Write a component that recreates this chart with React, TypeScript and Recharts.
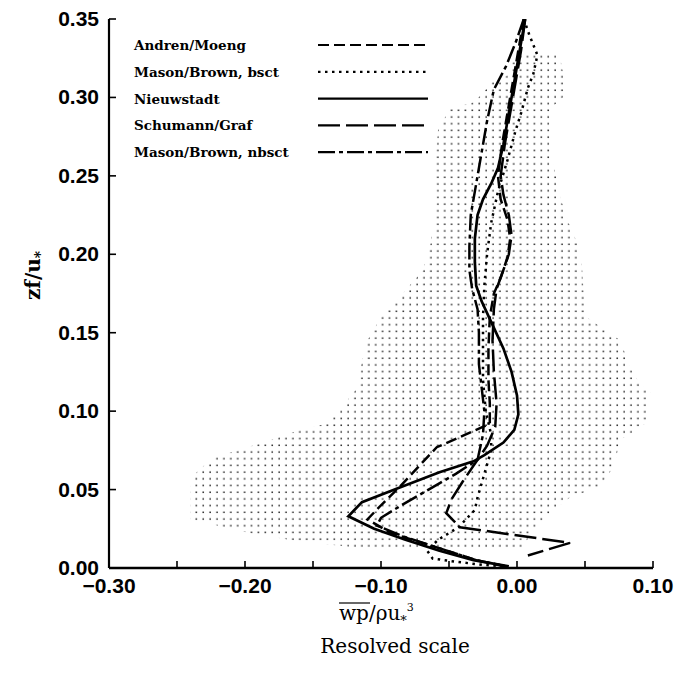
import React from "react";
import { ComposedChart, Line, Area, XAxis, YAxis, Legend } from "recharts";

// Resolved-scale pressure transport wp/(rho u*^3) against height zf/u*.
// Each profile is a list of [zf/u*, value] pairs, bottom of the list = surface.
const andrenMoeng: [number, number][] = [
  [0.35, 0.005], [0.33, 0.001], [0.31, -0.003], [0.29, -0.007], [0.27, -0.011],
  [0.25, -0.014], [0.235, -0.012], [0.222, -0.007], [0.21, -0.005], [0.198, -0.007],
  [0.185, -0.012], [0.175, -0.017], [0.16, -0.02], [0.14, -0.021], [0.12, -0.021],
  [0.105, -0.02], [0.092, -0.02], [0.085, -0.038], [0.077, -0.059], [0.065, -0.072],
  [0.052, -0.086], [0.04, -0.1], [0.031, -0.11], [0.022, -0.092], [0.012, -0.055],
  [0.005, -0.03], [0.001, -0.008],
];

const masonBrownBsct: [number, number][] = [
  [0.35, 0.005], [0.34, 0.009], [0.327, 0.015], [0.315, 0.012], [0.306, 0.008],
  [0.29, 0.003], [0.279, -0.001], [0.26, -0.007], [0.24, -0.014], [0.22, -0.019],
  [0.2, -0.022], [0.18, -0.024], [0.16, -0.025], [0.14, -0.025], [0.12, -0.025],
  [0.1, -0.023], [0.085, -0.019], [0.075, -0.019], [0.06, -0.024], [0.045, -0.029],
  [0.037, -0.031], [0.026, -0.043], [0.018, -0.058], [0.011, -0.066], [0.006, -0.062],
  [0.004, -0.045], [0.002, -0.025], [0.001, -0.008],
];

const nieuwstadt: [number, number][] = [
  [0.35, 0.006], [0.33, 0.002], [0.31, -0.002], [0.29, -0.006], [0.27, -0.01],
  [0.255, -0.014], [0.245, -0.019], [0.235, -0.025], [0.225, -0.029], [0.21, -0.031],
  [0.195, -0.031], [0.18, -0.03], [0.17, -0.026], [0.155, -0.018], [0.14, -0.01],
  [0.125, -0.004], [0.11, 0.0], [0.098, 0.001], [0.088, -0.002], [0.08, -0.01],
  [0.072, -0.024], [0.068, -0.032], [0.061, -0.057], [0.05, -0.09], [0.042, -0.114],
  [0.033, -0.124], [0.025, -0.105], [0.018, -0.082], [0.011, -0.057], [0.005, -0.032],
  [0.001, -0.006],
];

const schumannGraf: [number, number][] = [
  [0.35, 0.006], [0.33, 0.003], [0.31, -0.001], [0.29, -0.005], [0.27, -0.009],
  [0.25, -0.012], [0.238, -0.01], [0.225, -0.006], [0.212, -0.004], [0.2, -0.006],
  [0.19, -0.01], [0.178, -0.015], [0.165, -0.017], [0.145, -0.018], [0.125, -0.017],
  [0.105, -0.015], [0.09, -0.016], [0.078, -0.022], [0.069, -0.029], [0.055, -0.04],
  [0.044, -0.048], [0.035, -0.052], [0.026, -0.042], [0.016, 0.039], [0.008, 0.008],
];

const masonBrownNbsct: [number, number][] = [
  [0.35, 0.005], [0.335, -0.001], [0.32, -0.008], [0.305, -0.017], [0.285, -0.022],
  [0.265, -0.026], [0.245, -0.03], [0.225, -0.034], [0.205, -0.035], [0.19, -0.035],
  [0.178, -0.033], [0.165, -0.029], [0.15, -0.028], [0.13, -0.028], [0.115, -0.026],
  [0.1, -0.024], [0.085, -0.025], [0.069, -0.029], [0.06, -0.045], [0.05, -0.065],
  [0.04, -0.085], [0.032, -0.1], [0.027, -0.103], [0.02, -0.083], [0.012, -0.055],
  [0.005, -0.03], [0.001, -0.008],
];

// spread of the observations (stippled band)
const envZ = [
  0.328, 0.324, 0.315, 0.31, 0.301, 0.297, 0.293, 0.28, 0.26, 0.233, 0.215, 0.205,
  0.19, 0.175, 0.166, 0.16, 0.145, 0.128, 0.118, 0.112, 0.101, 0.092, 0.088, 0.082,
  0.075, 0.071, 0.064, 0.062, 0.052, 0.045, 0.035, 0.031, 0.026, 0.022, 0.017, 0.013,
];
const envLow = [
  0.002, -0.003, -0.005, -0.018, -0.027, -0.032, -0.049, -0.058, -0.06, -0.059, -0.062, -0.064,
  -0.069, -0.084, -0.093, -0.1, -0.11, -0.115, -0.115, -0.12, -0.13, -0.14, -0.16, -0.18,
  -0.205, -0.221, -0.232, -0.235, -0.24, -0.24, -0.24, -0.24, -0.215, -0.195, -0.161, -0.118,
];
const envHigh = [
  0.029, 0.032, 0.034, 0.034, 0.035, 0.03, 0.024, 0.024, 0.026, 0.033, 0.04, 0.046,
  0.048, 0.049, 0.05, 0.051, 0.076, 0.083, 0.09, 0.098, 0.097, 0.094, 0.088, 0.076,
  0.074, 0.073, 0.071, 0.069, 0.061, 0.039, 0.024, 0.02, 0.015, 0.01, 0.007, 0.004,
];

const xTicks = [-0.3, -0.25, -0.2, -0.15, -0.1, -0.05, 0, 0.05, 0.1];
const yTicks = [0, 0.05, 0.1, 0.15, 0.2, 0.25, 0.3, 0.35];

const series = [
  { name: "Andren/Moeng", data: andrenMoeng, dash: "11 5", width: 2.5 },
  { name: "Mason/Brown, bsct", data: masonBrownBsct, dash: "2.5 4.5", width: 2.5 },
  { name: "Nieuwstadt", data: nieuwstadt, dash: undefined, width: 2.7 },
  { name: "Schumann/Graf", data: schumannGraf, dash: "22 6", width: 2.5 },
  { name: "Mason/Brown, nbsct", data: masonBrownNbsct, dash: "17 4 4 4", width: 2.5 },
];

const envelope = envZ.map((z, i) => ({ z, range: [envLow[i], envHigh[i]] }));

const TICK_FONT = "'Liberation Sans', Arial, sans-serif";
const SERIF = "'DejaVu Serif', serif";

const fmt = (v: number) => {
  const s = Math.abs(v).toFixed(2);
  return v < -1e-9 ? "\u2212" + s : s;
};

const isMajor = (v: number) => Math.abs(v * 10 - Math.round(v * 10)) < 1e-6;

function BottomTick({ x, y, payload }: any) {
  return (
    <g>
      <line x1={x} x2={x} y1={y} y2={y - 7} stroke="#000" strokeWidth={1.6} />
      {isMajor(payload.value) && (
        <text x={x} y={y + 25} textAnchor="middle" fontFamily={TICK_FONT} fontWeight={700} fontSize={21} fill="#000">
          {fmt(payload.value)}
        </text>
      )}
    </g>
  );
}

function TopTick({ x, y }: any) {
  return <line x1={x} x2={x} y1={y} y2={y + 7} stroke="#000" strokeWidth={1.6} />;
}

function LeftTick({ x, y, payload }: any) {
  return (
    <g>
      <line x1={x} x2={x + 7} y1={y} y2={y} stroke="#000" strokeWidth={1.6} />
      <text x={x - 10} y={y + 7} textAnchor="end" fontFamily={TICK_FONT} fontWeight={700} fontSize={21} fill="#000">
        {fmt(payload.value)}
      </text>
    </g>
  );
}

function RightTick({ x, y }: any) {
  return <line x1={x} x2={x - 7} y1={y} y2={y} stroke="#000" strokeWidth={1.6} />;
}

function XTitle({ viewBox }: any) {
  const cx = viewBox.x + viewBox.width / 2 + 9;
  const x0 = cx - 51;
  const base = viewBox.y + 52;
  return (
    <g fontFamily={SERIF} fill="#000">
      {/* bar over the correlation wp */}
      <line x1={x0} x2={x0 + 31} y1={base - 17} y2={base - 17} stroke="#000" strokeWidth={1.2} />
      <text x={x0} y={base} fontSize={20}>
        <tspan>wp/ρu</tspan>
        <tspan fontSize={13} dy={5}>*</tspan>
        <tspan fontSize={11} dy={-14}>3</tspan>
      </text>
      <text x={cx + 5} y={viewBox.y + 85} textAnchor="middle" fontSize={20}>
        Resolved scale
      </text>
    </g>
  );
}

function YTitle({ viewBox }: any) {
  const x = viewBox.x + 33;
  const y = viewBox.y + viewBox.height / 2 - 18;
  return (
    <text transform={`translate(${x},${y}) rotate(-90)`} textAnchor="middle" fontFamily={SERIF} fontWeight={700} fontSize={20} fill="#000" dy={7}>
      zf/u<tspan fontSize={14} dy={5}>*</tspan>
    </text>
  );
}

function LegendBox() {
  return (
    <svg width={320} height={145} style={{ display: "block" }}>
      {series.map((s, i) => {
        const cy = 15 + i * 26.8;
        return (
          <g key={s.name}>
            <text x={6} y={cy + 5} fontFamily={SERIF} fontWeight={700} fontSize={13.5} fill="#000">
              {s.name}
            </text>
            <line x1={190} x2={300} y1={cy} y2={cy} stroke="#000" strokeWidth={2.2} strokeDasharray={s.dash} />
          </g>
        );
      })}
    </svg>
  );
}

export default function App() {
  return (
    <div style={{ position: "absolute", left: 0, top: 0, background: "#fff" }}>
      <ComposedChart
        width={683}
        height={674}
        layout="vertical"
        margin={{ top: 19, right: 30, bottom: 0, left: 0 }}
      >
        <defs>
          <pattern id="stipple" patternUnits="userSpaceOnUse" width={6.9} height={6.7}>
            <rect x={2.4} y={2.4} width={1.5} height={1.5} fill="#222" />
          </pattern>
        </defs>
        <XAxis
          xAxisId="bottom"
          type="number"
          orientation="bottom"
          domain={[-0.3, 0.1]}
          ticks={xTicks}
          allowDataOverflow
          height={106}
          tickSize={0}
          tickMargin={0}
          tickLine={false}
          tick={<BottomTick />}
          axisLine={{ stroke: "#000", strokeWidth: 2.4 }}
          interval={0}
          label={(p: any) => <XTitle {...p} />}
        />
        <XAxis
          xAxisId="top"
          type="number"
          orientation="top"
          domain={[-0.3, 0.1]}
          ticks={xTicks}
          allowDataOverflow
          height={0}
          tickSize={0}
          tickMargin={0}
          tickLine={false}
          tick={<TopTick />}
          axisLine={{ stroke: "#000", strokeWidth: 2 }}
          interval={0}
        />
        <YAxis
          yAxisId="left"
          type="number"
          dataKey="z"
          orientation="left"
          domain={[0, 0.35]}
          ticks={yTicks}
          reversed
          allowDataOverflow
          width={109}
          tickSize={0}
          tickMargin={0}
          tickLine={false}
          tick={<LeftTick />}
          axisLine={{ stroke: "#000", strokeWidth: 2.2 }}
          interval={0}
          label={(p: any) => <YTitle {...p} />}
        />
        <YAxis
          yAxisId="right"
          type="number"
          dataKey="z"
          orientation="right"
          domain={[0, 0.35]}
          ticks={yTicks}
          reversed
          allowDataOverflow
          width={0}
          tickSize={0}
          tickMargin={0}
          tickLine={false}
          tick={<RightTick />}
          axisLine={{ stroke: "#000", strokeWidth: 2.4 }}
          interval={0}
        />
        <Area
          xAxisId="bottom"
          yAxisId="left"
          data={envelope}
          dataKey="range"
          type="linear"
          fill="url(#stipple)"
          fillOpacity={1}
          stroke="none"
          legendType="none"
          isAnimationActive={false}
        />
        {series.map((s) => (
          <Line
            key={s.name}
            xAxisId="bottom"
            yAxisId="left"
            name={s.name}
            data={s.data.map(([z, x]) => ({ z, x }))}
            dataKey="x"
            type="linear"
            stroke="#000"
            strokeWidth={s.width}
            strokeDasharray={s.dash}
            dot={false}
            activeDot={false}
            isAnimationActive={false}
          />
        ))}
        <Legend
          layout="vertical"
          verticalAlign="middle"
          align="center"
          wrapperStyle={{ top: 30, left: 128, width: 320, height: 145 }}
          content={() => <LegendBox />}
        />
      </ComposedChart>
    </div>
  );
}
